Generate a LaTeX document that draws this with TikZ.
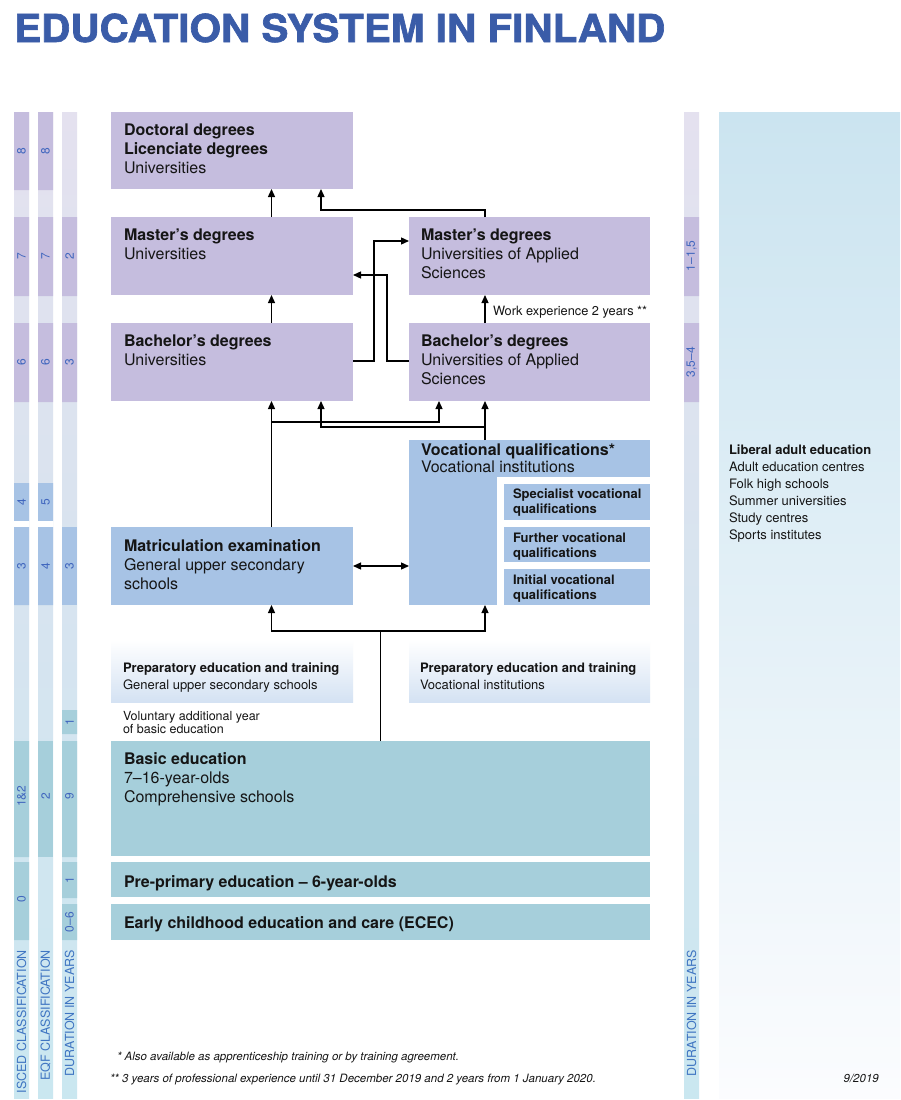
\documentclass[tikz,border=0pt]{standalone}
\usepackage{fontspec}
\setmainfont{TeX Gyre Heros}
\newfontfamily\titlefont[BoldFeatures={FakeBold=1.6}]{TeX Gyre Heros}
\usepackage{graphicx}
\usetikzlibrary{arrows.meta}
\definecolor{lavDark}{HTML}{C5BDDE}
\definecolor{lavLight}{HTML}{E3E0EF}
\definecolor{blueDark}{HTML}{A7C3E5}
\definecolor{tealC}{HTML}{A6CFDB}
\definecolor{colTop}{HTML}{E4E1EF}
\definecolor{colMid}{HTML}{D8E4EE}
\definecolor{colBot}{HTML}{CAE7F0}
\definecolor{panTop}{HTML}{CBE4F0}
\definecolor{panMid}{HTML}{E1EAF5}
\definecolor{panBot}{HTML}{FBFCFE}
\definecolor{prepBot}{HTML}{D4E2F3}
\definecolor{titleBlue}{HTML}{3A5CA8}
\definecolor{labelBlue}{HTML}{3F75C2}
\definecolor{numBlue}{HTML}{4066BE}
\definecolor{txtBlack}{HTML}{151515}
\newcommand\mybox[6]{\node[box, fill=#6, minimum width={(#4-#2)*1pt}, minimum height={(#5-#3)*1pt}] (#1) at (#2,#3) {};}
\newcommand\tl[5]{\node[tl,#5] (#1) at (#2,#3) {#4};}
\begin{document}
\begin{tikzpicture}[x=1pt,y=-1pt,
  box/.style={inner sep=0pt,outer sep=0pt,anchor=north west,draw=none},
  tl/.style={anchor=base west,inner sep=0pt,outer sep=0pt,text=txtBlack},
  bigb/.style={font=\fontsize{16}{19}\selectfont\bfseries},
  bigr/.style={font=\fontsize{16}{19}\selectfont},
  subb/.style={font=\fontsize{13}{15}\selectfont\bfseries},
  subr/.style={font=\fontsize{13}{15}\selectfont},
  smr/.style={font=\fontsize{12.5}{14}\selectfont},
  wrk/.style={font=\fontsize{12.8}{14}\selectfont},
  foot/.style={font=\fontsize{11.5}{13}\selectfont\itshape},
  rotlab/.style={rotate=90,anchor=east,inner sep=0pt,text=labelBlue,font=\fontsize{12.5}{14}\selectfont},
  num/.style={rotate=90,inner sep=0pt,text=numBlue,font=\fontsize{12}{14}\selectfont},
  ln/.style={line width=1.3pt,draw=black},
  arr/.style={ln,-{Triangle[length=8pt,width=7pt]}},
  arr2/.style={ln,{Triangle[length=8pt,width=7pt]}-{Triangle[length=8pt,width=7pt]}}
]
\useasboundingbox[fill=white] (0,0) rectangle (900,1100);

% title
\node[anchor=base west,inner sep=0pt,text=titleBlue] (title) at (14,42)
  {\resizebox{651pt}{28.5pt}{\titlefont\bfseries EDUCATION SYSTEM IN FINLAND}};

% left columns background
\foreach \xa in {14,38,62,684}{
  \shade[top color=colTop, middle color=colMid, bottom color=colBot] (\xa,112) rectangle (\xa+15,1098);
}
% ISCED
\fill[lavDark] (14,112) rectangle (29,190) (14,217) rectangle (29,296) (14,323) rectangle (29,402);
\fill[blueDark] (14,483) rectangle (29,521) (14,527) rectangle (29,605);
\fill[white] (14,521) rectangle (29,527);
\fill[tealC] (14,741) rectangle (29,857) (14,862) rectangle (29,940);
% EQF
\fill[lavDark] (38,112) rectangle (53,190) (38,217) rectangle (53,296) (38,323) rectangle (53,402);
\fill[blueDark] (38,483) rectangle (53,521) (38,527) rectangle (53,605);
\fill[white] (38,521) rectangle (53,527);
\fill[tealC] (38,741) rectangle (53,857);
% Duration
\fill[lavDark] (62,217) rectangle (77,296) (62,323) rectangle (77,402);
\fill[blueDark] (62,527) rectangle (77,605);
\fill[tealC] (62,710) rectangle (77,734) (62,741) rectangle (77,857) (62,862) rectangle (77,898) (62,904) rectangle (77,940);
% right duration
\fill[lavDark] (684,217) rectangle (699,296) (684,323) rectangle (699,402);

% numbers
\node[num] (i8) at (21.5,151) {8};
\node[num] (i7) at (21.5,256) {7};
\node[num] (i6) at (21.5,362) {6};
\node[num] (i4) at (21.5,502) {4};
\node[num] (i3) at (21.5,566) {3};
\node[num] (i12) at (21.5,796) {1\&2};
\node[num] (i0) at (21.5,899) {0};
\node[num] (e8) at (45.5,151) {8};
\node[num] (e7) at (45.5,256) {7};
\node[num] (e6) at (45.5,362) {6};
\node[num] (e5) at (45.5,502) {5};
\node[num] (e4) at (45.5,566) {4};
\node[num] (e2) at (45.5,796) {2};
\node[num] (d2) at (69.5,256) {2};
\node[num] (d3) at (69.5,362) {3};
\node[num] (d3b) at (69.5,566) {3};
\node[num] (d1) at (69.5,722) {1};
\node[num] (d9) at (69.5,796) {9};
\node[num] (d1b) at (69.5,880) {1};
\node[num] (d06) at (69.5,922) {0–6};
\node[num] (r1) at (691.5,256) {1–1,5};
\node[num] (r2) at (691.5,362) {3,5–4};

% rotated labels
\node[rotlab] (labI) at (21.5,950) {ISCED CLASSIFICATION};
\node[rotlab] (labE) at (45.5,950) {EQF CLASSIFICATION};
\node[rotlab] (labD) at (69.5,950) {DURATION IN YEARS};
\node[rotlab] (labR) at (691.5,950) {DURATION IN YEARS};

% right panel
\shade[top color=panTop, middle color=panMid, bottom color=panBot] (719,112) rectangle (900,1098);
\tl{lae}{729}{454}{Liberal adult education}{subb}
\tl{lae1}{729}{471}{Adult education centres}{subr}
\tl{lae2}{729}{488}{Folk high schools}{subr}
\tl{lae3}{729}{505}{Summer universities}{subr}
\tl{lae4}{729}{522}{Study centres}{subr}
\tl{lae5}{729}{539}{Sports institutes}{subr}

% boxes
\mybox{doc}{111}{112}{353}{189}{lavDark}
\mybox{mu}{111}{217}{353}{295}{lavDark}
\mybox{ma}{409}{217}{650}{295}{lavDark}
\mybox{bu}{111}{323}{353}{401}{lavDark}
\mybox{ba}{409}{323}{650}{401}{lavDark}
\mybox{mat}{111}{527}{353}{605}{blueDark}
\mybox{voct}{409}{440}{650}{477}{blueDark}
\mybox{vocl}{409}{440}{497}{605}{blueDark}
\mybox{spec}{504}{484}{650}{520}{blueDark}
\mybox{fur}{504}{527}{650}{562}{blueDark}
\mybox{ini}{504}{569}{650}{605}{blueDark}
\node[box, top color=white, bottom color=prepBot, minimum width=242pt, minimum height=62pt] (prepL) at (111,640) {};
\node[box, top color=white, bottom color=prepBot, minimum width=241pt, minimum height=62pt] (prepR) at (409,640) {};
\mybox{basic}{111}{741}{650}{856}{tealC}
\mybox{pre}{111}{862}{650}{897}{tealC}
\mybox{ecec}{111}{904}{650}{940}{tealC}

% texts
\tl{t1}{124}{135}{Doctoral degrees}{bigb}
\tl{t2}{124}{154}{Licenciate degrees}{bigb}
\tl{t3}{124}{173}{Universities}{bigr}
\tl{t4}{124}{240}{Master’s degrees}{bigb}
\tl{t5}{124}{259}{Universities}{bigr}
\tl{t6}{421}{240}{Master’s degrees}{bigb}
\tl{t7}{421}{259}{Universities of Applied}{bigr}
\tl{t8}{421}{278}{Sciences}{bigr}
\tl{t9}{124}{346}{Bachelor’s degrees}{bigb}
\tl{t10}{124}{365}{Universities}{bigr}
\tl{t11}{421}{346}{Bachelor’s degrees}{bigb}
\tl{t12}{421}{365}{Universities of Applied}{bigr}
\tl{t13}{421}{384}{Sciences}{bigr}
\tl{t14}{124}{551}{Matriculation examination}{bigb}
\tl{t15}{124}{570}{General upper secondary}{bigr}
\tl{t16}{124}{589}{schools}{bigr}
\tl{t17}{421}{455}{Vocational qualifications*}{bigb}
\tl{t18}{421}{472}{Vocational institutions}{bigr}
\tl{t19}{513}{498}{Specialist vocational}{subb}
\tl{t20}{513}{513}{qualifications}{subb}
\tl{t21}{513}{542}{Further vocational}{subb}
\tl{t22}{513}{557}{qualifications}{subb}
\tl{t23}{513}{584}{Initial vocational}{subb}
\tl{t24}{513}{599}{qualifications}{subb}
\tl{t25}{123}{672}{Preparatory education and training}{subb}
\tl{t26}{123}{689}{General upper secondary schools}{subr}
\tl{t27}{420}{672}{Preparatory education and training}{subb}
\tl{t28}{420}{689}{Vocational institutions}{subr}
\tl{t29}{123}{720}{Voluntary additional year}{smr}
\tl{t30}{123}{733}{of basic education}{smr}
\tl{t31}{124}{764}{Basic education}{bigb}
\tl{t32}{124}{783}{7–16-year-olds}{bigr}
\tl{t33}{124}{802}{Comprehensive schools}{bigr}
\tl{t34}{124}{887}{Pre-primary education – 6-year-olds}{bigb}
\tl{t35}{124}{928}{Early childhood education and care (ECEC)}{bigb}
\tl{t36}{493}{315}{Work experience 2 years **}{wrk}
\tl{f1}{117}{1060}{* Also available as apprenticeship training or by training agreement.}{foot}
\tl{f2}{110}{1082}{** 3 years of professional experience until 31 December 2019 and 2 years from 1 January 2020.}{foot}
\node[anchor=base east,inner sep=0pt,text=txtBlack,foot] (f3) at (879,1082) {9/2019};

% x / y helper coordinates
\coordinate (xL) at (271.5,0);
\coordinate (xL2) at (321,0);
\coordinate (xR1) at (439,0);
\coordinate (xR) at (485,0);
\coordinate (xM) at (380.5,0);
\coordinate (xc1) at (374,0);
\coordinate (xc2) at (387,0);
\coordinate (yTop) at (0,210);
\coordinate (yA) at (0,241);
\coordinate (yC) at (0,275);
\coordinate (yB) at (0,361);
\coordinate (yBr1) at (0,422);
\coordinate (yBr2) at (0,427);
\coordinate (yD) at (0,566);
\coordinate (yE) at (0,631);

% connectors
\draw[arr] (mu.north -| xL) -- (doc.south -| xL);
\draw[arr] (ma.north -| xR) -- (xR |- yTop) -| (doc.south -| xL2);
\draw[arr] (bu.north -| xL) -- (mu.south -| xL);
\draw[arr] (ba.north -| xR) -- (ma.south -| xR);
\draw[arr] (bu.east |- yB) -| (xc1 |- yA) -- (ma.west |- yA);
\draw[arr] (ba.west |- yB) -| (xc2 |- yC) -- (mu.east |- yC);
\draw[arr] (mat.north -| xL) -- (bu.south -| xL);
\draw[arr] (xL |- yBr1) -| (ba.south -| xR1);
\draw[arr] (vocl.north -| xR) -- (ba.south -| xR);
\draw[arr] (xR |- yBr2) -| (bu.south -| xL2);
\draw[arr2] (mat.east |- yD) -- (vocl.west |- yD);
\draw[ln] (basic.north -| xM) -- (xM |- yE);
\draw[arr] (xM |- yE) -| (mat.south -| xL);
\draw[arr] (xM |- yE) -| (vocl.south -| xR);
\end{tikzpicture}
\end{document}
